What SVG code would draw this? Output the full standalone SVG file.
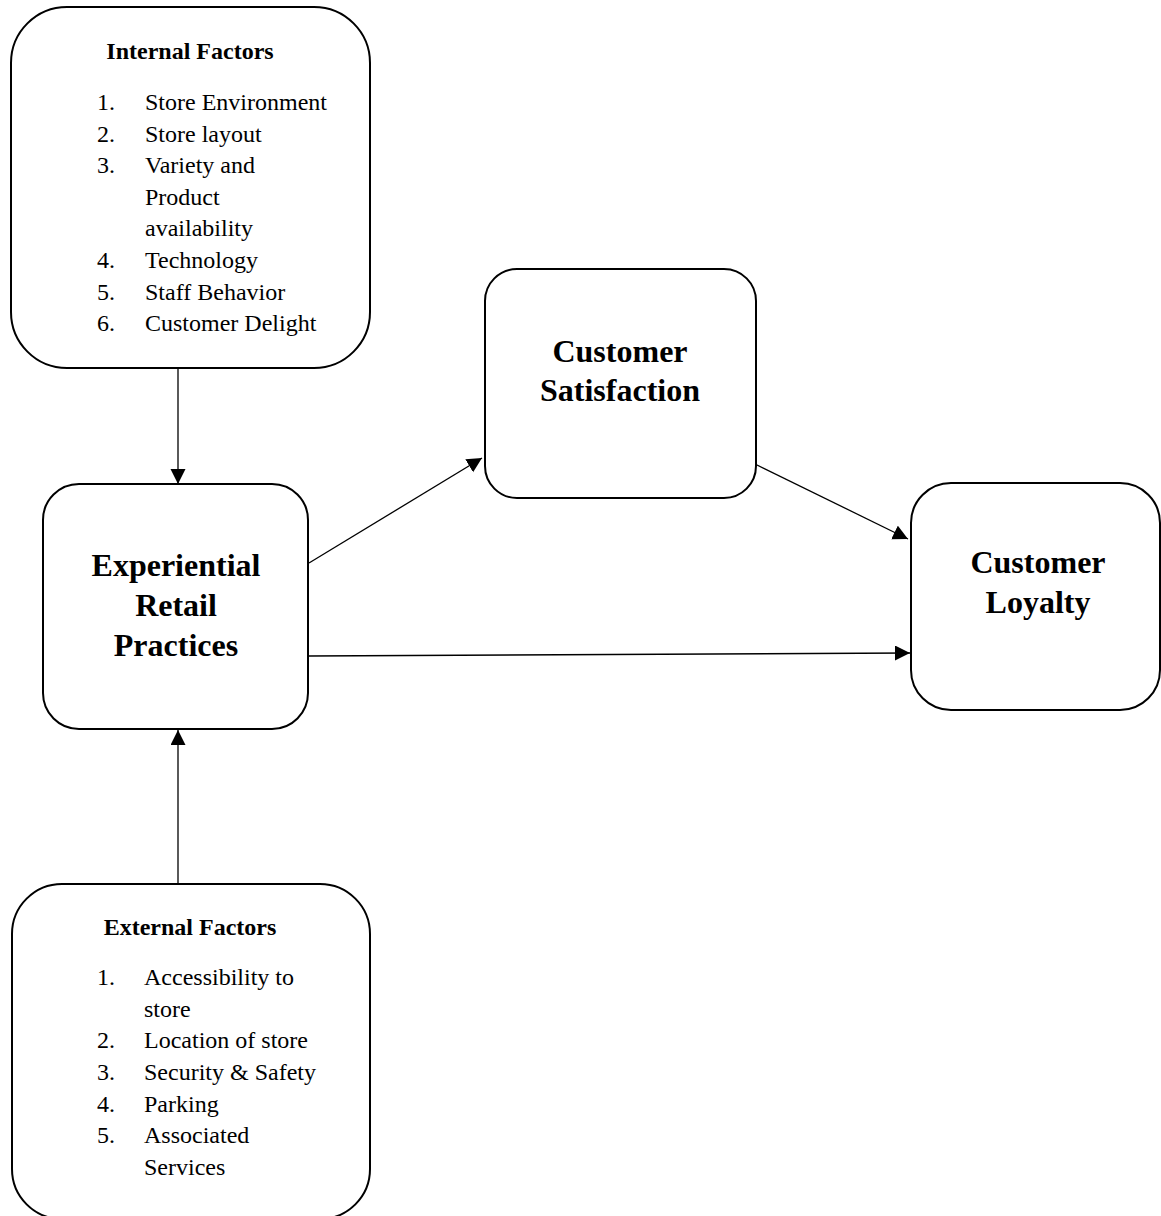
<svg xmlns="http://www.w3.org/2000/svg" width="1161" height="1216" viewBox="0 0 1161 1216">
  <style>
    .box { fill: #fff; stroke: #000; stroke-width: 2; }
    .t { font-family: "Liberation Serif", "Times New Roman", serif; fill: #000; }
    .list { font-size: 24px; }
    .hdr { font-size: 24px; font-weight: bold; text-anchor: middle; }
    .big { font-size: 32px; font-weight: bold; text-anchor: middle; }
    .edge { stroke: #000; stroke-width: 1.3; fill: none; marker-end: url(#arr); }
  </style>
  <defs>
    <marker id="arr" markerUnits="userSpaceOnUse" markerWidth="16" markerHeight="16" viewBox="0 0 16 16" refX="15" refY="7.5" orient="auto">
      <path d="M0,0 L15,7.5 L0,15 Z" fill="#000"/>
    </marker>
  </defs>
  <rect width="1161" height="1216" fill="#fff"/>

  <g id="connectors">
    <line class="edge" x1="178" y1="368" x2="178" y2="484"/>
    <line class="edge" x1="178" y1="884" x2="178" y2="730"/>
    <line class="edge" x1="309" y1="563" x2="482" y2="458"/>
    <line class="edge" x1="309" y1="656" x2="910" y2="653"/>
    <line class="edge" x1="755" y1="464" x2="908" y2="539"/>
  </g>

  <g id="internal-factors">
    <rect class="box" x="11" y="7" width="359" height="361" rx="56" ry="56"/>
    <text class="t hdr" x="190" y="59">Internal Factors</text>
    <g class="t list">
      <text x="97" y="110">1.</text><text x="145" y="110">Store Environment</text>
      <text x="97" y="141.6">2.</text><text x="145" y="141.6">Store layout</text>
      <text x="97" y="173.2">3.</text><text x="145" y="173.2">Variety and</text>
      <text x="145" y="204.8">Product</text>
      <text x="145" y="236.4">availability</text>
      <text x="97" y="268">4.</text><text x="145" y="268">Technology</text>
      <text x="97" y="299.6">5.</text><text x="145" y="299.6">Staff Behavior</text>
      <text x="97" y="331.2">6.</text><text x="145" y="331.2">Customer Delight</text>
    </g>
  </g>

  <g id="experiential-retail-practices">
    <rect class="box" x="43" y="484" width="265" height="245" rx="36" ry="36"/>
    <text class="t big" x="176" y="576">Experiential</text>
    <text class="t big" x="176" y="616">Retail</text>
    <text class="t big" x="176" y="656">Practices</text>
  </g>

  <g id="customer-satisfaction">
    <rect class="box" x="485" y="269" width="271" height="229" rx="32" ry="32"/>
    <text class="t big" x="620" y="362">Customer</text>
    <text class="t big" x="620" y="401">Satisfaction</text>
  </g>

  <g id="customer-loyalty">
    <rect class="box" x="911" y="483" width="249" height="227" rx="40" ry="40"/>
    <text class="t big" x="1038" y="573">Customer</text>
    <text class="t big" x="1038" y="613">Loyalty</text>
  </g>

  <g id="external-factors">
    <rect class="box" x="12" y="884" width="358" height="335" rx="50" ry="50"/>
    <text class="t hdr" x="190" y="935">External Factors</text>
    <g class="t list">
      <text x="97" y="985">1.</text><text x="144" y="985">Accessibility to</text>
      <text x="144" y="1016.7">store</text>
      <text x="97" y="1048.3">2.</text><text x="144" y="1048.3">Location of store</text>
      <text x="97" y="1080">3.</text><text x="144" y="1080">Security &amp; Safety</text>
      <text x="97" y="1111.7">4.</text><text x="144" y="1111.7">Parking</text>
      <text x="97" y="1143.3">5.</text><text x="144" y="1143.3">Associated</text>
      <text x="144" y="1175">Services</text>
    </g>
  </g>
</svg>
